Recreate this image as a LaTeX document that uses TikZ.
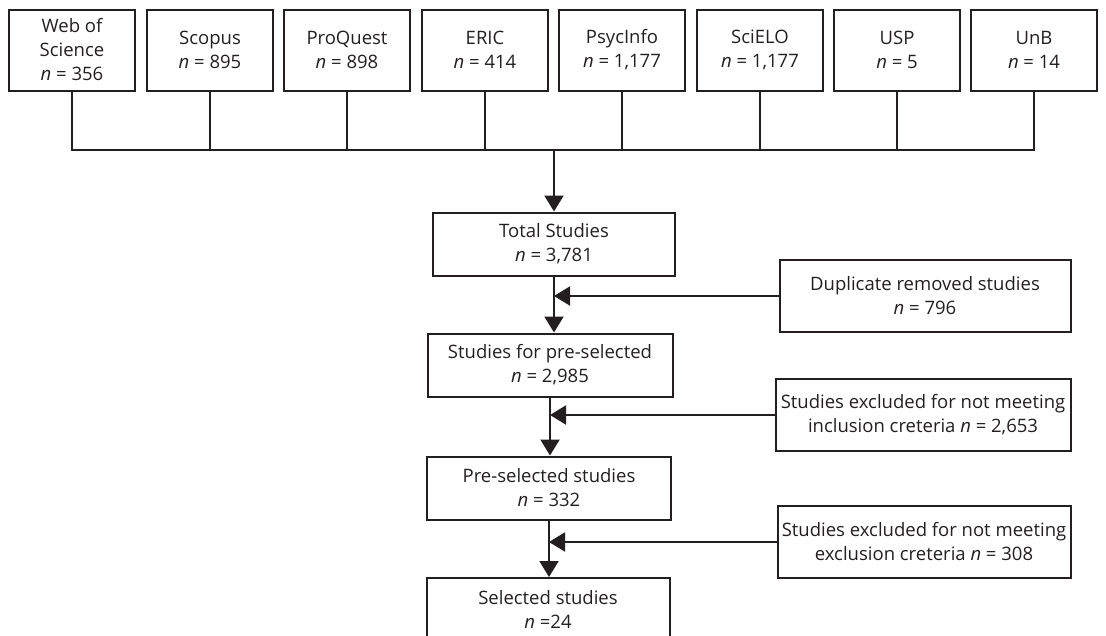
\documentclass[tikz,border=0pt]{standalone}
\usepackage{fontspec}
\setmainfont{Open Sans}
\usetikzlibrary{arrows.meta}
\definecolor{ink}{HTML}{231F20}
\begin{document}
\begin{tikzpicture}[x=1pt,y=-1pt,
  box/.style={draw=ink, text=ink, line width=2pt, align=center, inner sep=0pt,
    font=\fontsize{18.5}{24}\selectfont},
  topbox/.style={box, minimum width=126pt, minimum height=81pt},
  midbox/.style={box, minimum height=63pt},
  sidebox/.style={box, minimum height=72pt},
  conn/.style={draw=ink, line width=2pt},
  arr/.style={conn, -{Triangle[width=19pt,length=16pt]}}]
\useasboundingbox (0,0) rectangle (1106,635);
\clip (0,0) rectangle (1106,635);
\node[topbox] (b1) at (72,50) {Web of\\Science\\\textit{n} = 356};
\node[topbox] (b2) at (210,50) {Scopus\\\textit{n} = 895};
\node[topbox] (b3) at (347,50) {ProQuest\\\textit{n} = 898};
\node[topbox] (b4) at (485,50) {ERIC\\\textit{n} = 414};
\node[topbox] (b5) at (622,50) {PsycInfo\\\textit{n} = 1,177};
\node[topbox] (b6) at (760,50) {SciELO\\\textit{n} = 1,177};
\node[topbox] (b7) at (897,50) {USP\\\textit{n} = 5};
\node[topbox] (b8) at (1034,50) {UnB\\\textit{n} = 14};
\node[midbox, minimum width=242pt] (total) at (554,244) {Total Studies\\\textit{n} = 3,781};
\node[midbox, minimum width=245pt] (pre) at (550,365) {Studies for pre-selected\\\textit{n} = 2,985};
\node[midbox, minimum width=244pt] (presel) at (549,488) {Pre-selected studies\\\textit{n} = 332};
\node[box, minimum width=243pt, minimum height=62pt] (sel) at (548,609) {Selected studies\\\textit{n} =24};
\node[sidebox, minimum width=291pt] (dup) at (925,296) {Duplicate removed studies\\\textit{n} = 796};
\node[sidebox, minimum width=295pt] (incl) at (923,415) {Studies excluded for not meeting\\inclusion creteria \textit{n} = 2,653};
\node[sidebox, minimum width=293pt] (excl) at (924,542) {Studies excluded for not meeting\\exclusion creteria \textit{n} = 308};
\coordinate (busL) at (72,150);
\coordinate (busM) at (554,150);
\draw[conn] (b1.south) -- (b1.south |- busL) -- (b8.south |- busL) -- (b8.south);
\foreach \b in {b2,b3,b4,b5,b6,b7} \draw[conn] (\b.south) -- (\b.south |- busL);
\draw[arr] (busM) -- (total.north);
\draw[arr] (total.south) -- (total.south |- pre.north);
\draw[arr] (pre.south) -- (pre.south |- presel.north);
\draw[arr] (presel.south) -- (presel.south |- sel.north);
\draw[arr] (dup.west) -- (dup.west -| total.south);
\draw[arr] (incl.west) -- (incl.west -| pre.south);
\draw[arr] (excl.west) -- (excl.west -| presel.south);
\end{tikzpicture}
\end{document}
